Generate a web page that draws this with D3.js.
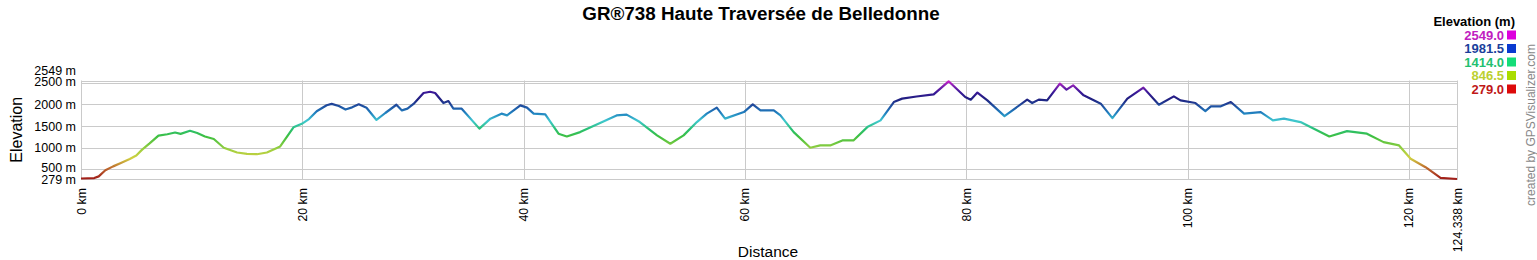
<!DOCTYPE html>
<html>
<head>
<meta charset="utf-8">
<script src="https://cdn.jsdelivr.net/npm/d3@7"></script>
<style>
  body { margin: 0; background: #fff; }
  text { font-family: "Liberation Sans", Arial, sans-serif; }
</style>
</head>
<body>
<svg id="chart"></svg>
<script>
/* data */
var title = "GR®738 Haute Traversée de Belledonne";

var distKm = [0, 1.2, 1.6, 2.2, 2.9, 3.6, 4.4, 5.0, 5.5, 6.2, 7.0, 7.8, 8.5, 9.0, 9.85, 10.5, 11.2, 12.0, 12.9, 14.1,
    15.0, 15.9, 16.8, 18.0, 19.2, 19.95, 20.6, 21.3, 22.2, 22.65, 23.3, 23.9, 24.5, 25.1, 25.8, 26.7, 27.5, 28.5, 29.0, 29.5,
    30.05, 30.95, 31.55, 32.0, 32.75, 33.2, 33.65, 34.4, 36.0, 37.0, 38.0, 38.5, 39.7, 40.3, 40.9, 41.95, 43.15, 43.9, 45.1, 46.9,
    48.4, 49.3, 50.5, 52.05, 53.25, 54.45, 55.65, 56.55, 57.45, 58.2, 59.9, 60.7, 61.4, 62.6, 63.2, 64.4, 65.9, 66.8, 67.7, 68.8,
    69.8, 71.05, 72.25, 73.45, 74.2, 75.5, 77.05, 78.4, 79.9, 80.4, 81.0, 81.9, 83.45, 85.5, 85.95, 86.55, 87.3, 88.45, 89.05, 89.65,
    90.6, 92.15, 93.2, 94.55, 96.0, 97.4, 98.75, 99.35, 100.7, 101.6, 102.1, 103.0, 103.9, 105.1, 106.6, 107.7, 108.7, 110.2, 112.8, 114.4,
    116.2, 117.7, 119.1, 120.15, 121.5, 122.85, 124.338];

var elevM = [290, 300, 340, 480, 570, 650, 740, 820, 950, 1100, 1280, 1310, 1350, 1320, 1390, 1340, 1260, 1200, 1000, 890,
    860, 850, 890, 1030, 1470, 1550, 1660, 1840, 1980, 2010, 1960, 1880, 1930, 2000, 1920, 1640, 1800, 1990, 1860, 1900,
    2010, 2260, 2290, 2260, 2030, 2076, 1900, 1900, 1440, 1670, 1785, 1745, 1976, 1923, 1785, 1769, 1323, 1260, 1360, 1568,
    1745, 1762, 1591, 1284, 1092, 1284, 1591, 1785, 1923, 1670, 1822, 1999, 1861, 1861, 1745, 1360, 1000, 1053, 1053, 1168,
    1168, 1475, 1630, 2053, 2131, 2180, 2230, 2530, 2168, 2108, 2270, 2092, 1729, 2108, 2030, 2108, 2092, 2477, 2339, 2438,
    2207, 2015, 1683, 2131, 2385, 1992, 2184, 2092, 2030, 1845, 1953, 1953, 2053, 1785, 1822, 1630, 1670, 1591, 1260, 1383,
    1323, 1129, 1053, 745, 551, 307, 279];

var yTicks = [279, 500, 1000, 1500, 2000, 2500, 2549];
var xTicks = [0, 20, 40, 60, 80, 100, 120, 124.338];

var legendValues = [2549.0, 1981.5, 1414.0, 846.5, 279.0];
var legendBox = ["#dd00dd", "#0a3ad0", "#14dd78", "#aadd00", "#dd0a0a"];
var legendText = ["#c020c0", "#1a3f9c", "#22c070", "#bcd030", "#c01818"];

// line colour by elevation
var lineStops = [279, 550, 760, 950, 1250, 1420, 1620, 1800, 1960, 2120, 2280, 2420, 2549];
var lineColors = ["#a01c18", "#c07030", "#d0d040", "#a0d040", "#40c040", "#28c070", "#40c8d0", "#2080c0",
    "#2050a0", "#202080", "#3a1898", "#8020b0", "#d020d0"];

/* chart */
var W = 1537, H = 260;
var x0 = 81, x1 = 1457, yTop = 80.5, yBot = 179;

var svg = d3.select("#chart").attr("width", W).attr("height", H);
svg.append("rect").attr("width", W).attr("height", H).attr("fill", "#fff");

var xScale = d3.scaleLinear().domain([0, 124.338]).range([x0, x1]);
var yScale = d3.scaleLinear().domain([279, 2549]).range([yBot, yTop]);
var colorScale = d3.scaleLinear().domain(lineStops).range(lineColors);

// grid
var grid = svg.append("g").attr("stroke", "#cacaca").attr("stroke-width", 1);
grid.selectAll(".hg").data(yTicks).join("line")
    .attr("x1", x0).attr("x2", x1)
    .attr("y1", d => Math.round(yScale(d)) + 0.5).attr("y2", d => Math.round(yScale(d)) + 0.5);
grid.selectAll(".vg").data(xTicks).join("line")
    .attr("y1", yTop).attr("y2", yBot + 1)
    .attr("x1", d => Math.round(xScale(d)) + 0.5).attr("x2", d => Math.round(xScale(d)) + 0.5);

// y labels (end labels nudged apart, as in the original)
var yNudge = {2549: -10, 2500: -1.5, 500: -1.5, 279: 0.5};
svg.append("g").selectAll("text").data(yTicks).join("text")
    .attr("x", 76)
    .attr("y", d => yScale(d) + (yNudge[d] || 0))
    .attr("dy", "0.36em")
    .attr("text-anchor", "end")
    .style("font-size", "12.5px")
    .attr("fill", "#000")
    .text(d => d + " m");

// x labels
svg.append("g").selectAll("text").data(xTicks).join("text")
    .attr("transform", d => `translate(${xScale(d) + 4.5}, 188) rotate(-90)`)
    .attr("text-anchor", "end")
    .style("font-size", "12.3px")
    .attr("fill", "#000")
    .text(d => d + " km");

// axis titles
svg.append("text")
    .attr("transform", `translate(22, ${(yTop + yBot) / 2}) rotate(-90)`)
    .attr("text-anchor", "middle")
    .style("font-size", "16px")
    .text("Elevation");

svg.append("text")
    .attr("x", 768).attr("y", 257)
    .attr("text-anchor", "middle")
    .style("font-size", "15.5px")
    .text("Distance");

svg.append("text")
    .attr("x", 761).attr("y", 19.5)
    .attr("text-anchor", "middle")
    .style("font-size", "18.8px")
    .style("font-weight", "bold")
    .text(title);

// gradient along elevation
var grad = svg.append("defs").append("linearGradient")
    .attr("id", "elevGrad")
    .attr("gradientUnits", "userSpaceOnUse")
    .attr("x1", 0).attr("x2", 0)
    .attr("y1", yScale(279)).attr("y2", yScale(2549));
grad.selectAll("stop").data(lineStops).join("stop")
    .attr("offset", d => (d - 279) / (2549 - 279))
    .attr("stop-color", d => colorScale(d));

var profile = distKm.map((d, i) => [d, elevM[i]]);
var line = d3.line().x(d => xScale(d[0])).y(d => yScale(d[1]));

svg.append("path")
    .datum(profile)
    .attr("d", line)
    .attr("fill", "none")
    .attr("stroke", "url(#elevGrad)")
    .attr("stroke-width", 2.2)
    .attr("stroke-linejoin", "round");

// legend
svg.append("text")
    .attr("x", 1515).attr("y", 25.7)
    .attr("text-anchor", "end")
    .style("font-size", "13px")
    .style("font-weight", "bold")
    .text("Elevation (m)");

var leg = svg.append("g");
leg.selectAll("text").data(legendValues).join("text")
    .attr("x", 1504)
    .attr("y", (d, i) => 35 + i * 13.5 + 4.6)
    .attr("text-anchor", "end")
    .style("font-size", "13px")
    .style("font-weight", "bold")
    .attr("fill", (d, i) => legendText[i])
    .text(d => d.toFixed(1));
leg.selectAll("rect").data(legendValues).join("rect")
    .attr("x", 1507)
    .attr("y", (d, i) => 35 + i * 13.5 - 4.5)
    .attr("width", 9).attr("height", 9)
    .attr("fill", (d, i) => legendBox[i]);

// credit
svg.append("text")
    .attr("transform", "translate(1535, 125) rotate(-90)")
    .attr("text-anchor", "middle")
    .style("font-size", "12px")
    .attr("fill", "#888")
    .text("created by GPSVisualizer.com");
</script>
</body>
</html>
